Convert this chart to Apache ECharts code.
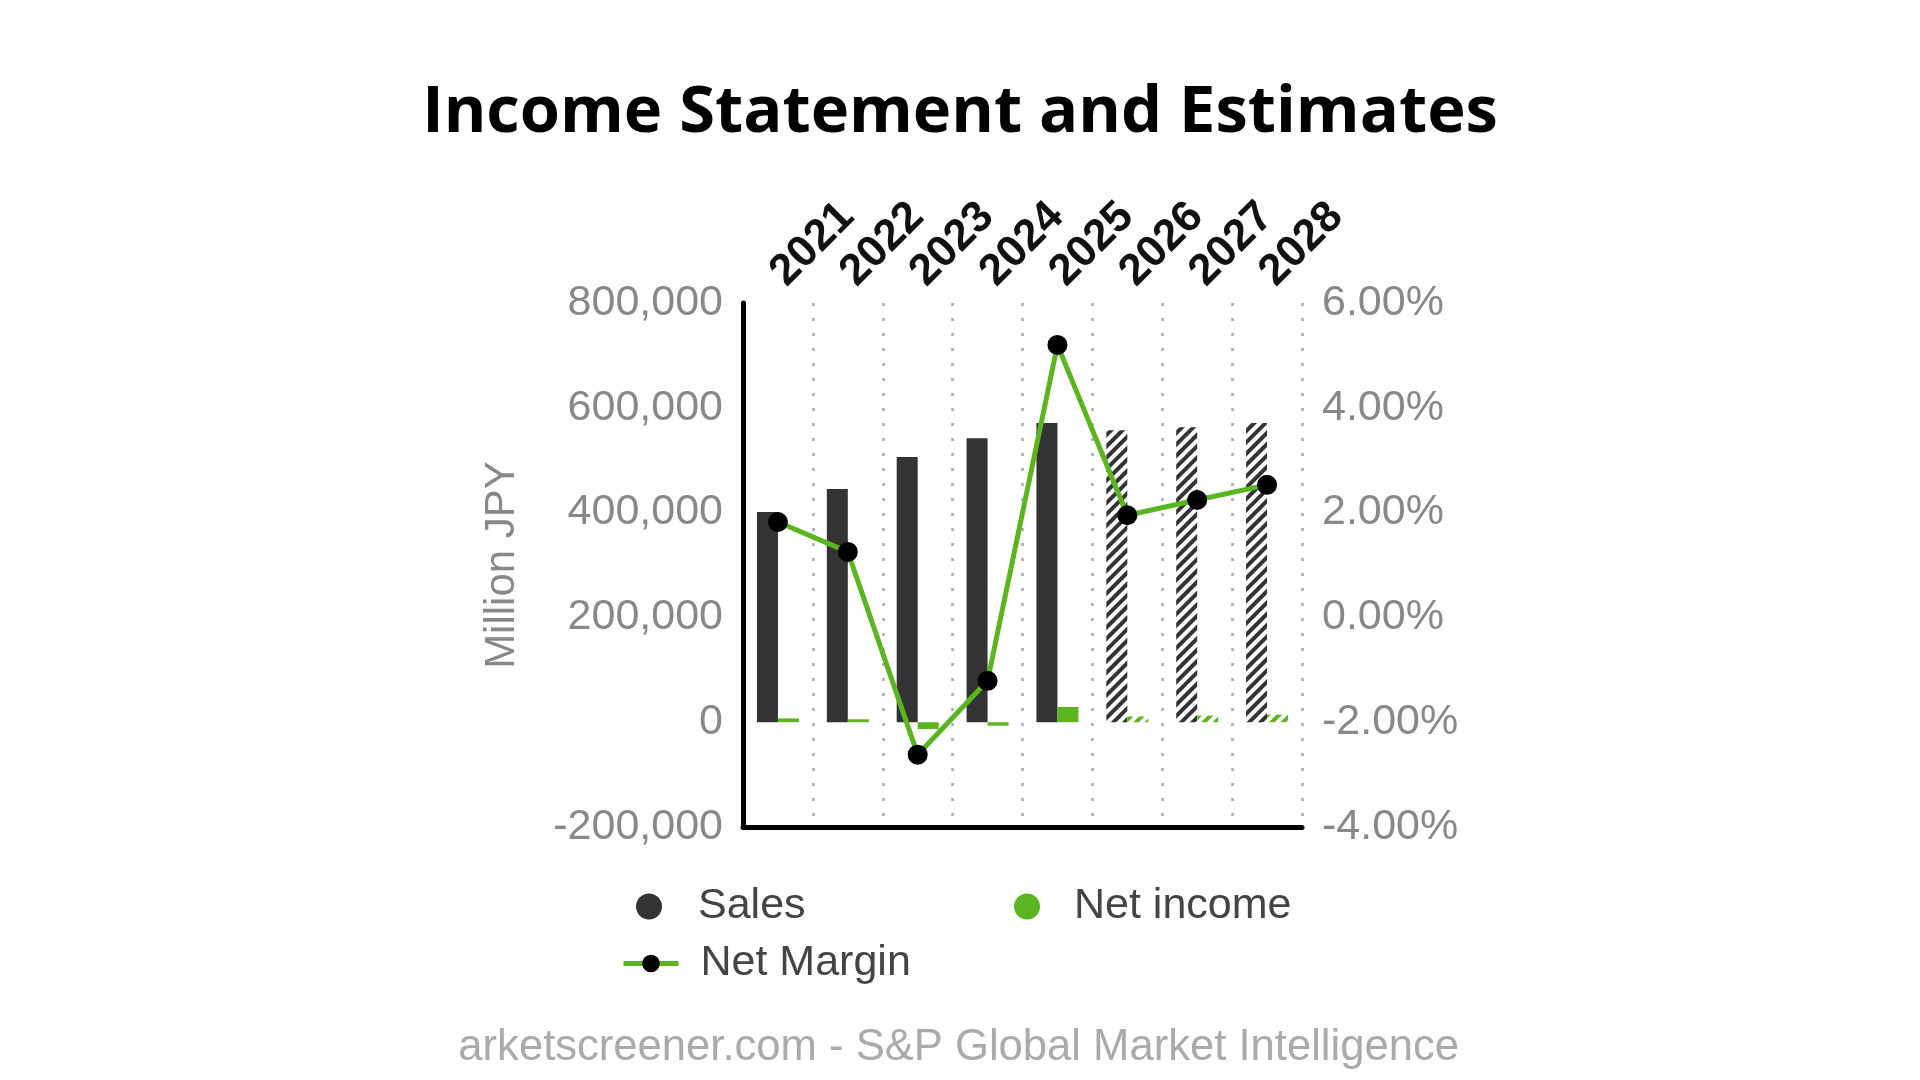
<!DOCTYPE html>
<html>
<head>
<meta charset="utf-8">
<title>Income Statement and Estimates</title>
<script src="https://cdn.jsdelivr.net/npm/echarts@6/dist/echarts.min.js"></script>
<style>
  html, body { margin: 0; padding: 0; background: #fff; }
  #chart { width: 1920px; height: 1080px; }
</style>
</head>
<body>
<div id="chart"></div>
<script>
// ===== data =====
const years = ['2021', '2022', '2023', '2024', '2025', '2026', '2027', '2028'];
const estimateYears = ['2026', '2027', '2028'];
const sales = [401000, 445000, 506000, 542000, 571000, 557000, 563000, 571000];
const netIncome = [7300, 5600, -13000, -6600, 29000, 10900, 12600, 14400];
const netMargin = [1.82, 1.25, -2.62, -1.21, 5.20, 1.95, 2.24, 2.53];
// axis ranges: [min, max, interval]
const salesTicks = [-200000, 800000, 200000];
const marginTicks = [-4, 6, 2];

const DARK = '#333333';
const GREEN = '#5ab520';
const FONT = '"Liberation Sans", Arial, sans-serif';

// hachures for estimated years
function hatch(color) {
  return { color: color, dashArrayX: [1, 0], dashArrayY: [4, 4], rotation: -Math.PI / 4, symbol: 'rect', symbolSize: 1 };
}

function withEstimates(values, color) {
  return values.map((v, i) => estimateYears.includes(years[i])
    ? { value: v, itemStyle: { color: '#fff', decal: hatch(color) } }
    : v);
}

const chart = echarts.init(document.getElementById('chart'));

const legendText = (pad) => ({ fontSize: 43, color: '#444', fontFamily: FONT, padding: [0, 0, 0, pad] });

chart.setOption({
  animation: false,
  textStyle: { fontFamily: FONT },
  title: [
    {
      text: 'Income Statement and Estimates',
      left: 'center', top: 76,
      textStyle: { fontFamily: '"Open Sans", "Noto Sans", sans-serif', fontWeight: 'bold', fontSize: 65, color: '#000' },
    },
    {
      text: 'arketscreener.com - S&P Global Market Intelligence',
      right: 456, top: 1021,
      textStyle: { fontFamily: FONT, fontWeight: 'normal', fontSize: 43.6, color: '#aaa' },
    },
  ],
  legend: [
    { data: ['Sales'], left: 636, top: 885, padding: 0, icon: 'circle', itemWidth: 26, itemHeight: 26, textStyle: legendText(31) },
    { data: ['Net income'], left: 1014, top: 885, padding: 0, icon: 'circle', itemWidth: 26, itemHeight: 26, textStyle: legendText(29) },
    {
      data: ['Net Margin'], left: 621, top: 942, padding: 0, itemWidth: 55, itemHeight: 22,
      lineStyle: { width: 5 }, textStyle: legendText(17),
    },
  ],
  grid: { left: 743, right: 618, top: 303, bottom: 253 },
  xAxis: [
    {
      type: 'category', data: years, position: 'top',
      axisLine: { show: false, onZero: false },
      axisTick: { show: false },
      axisLabel: { interval: 0, rotate: -45, margin: 24, fontSize: 44, fontWeight: 'bold', color: '#111' },
      splitLine: { show: true, interval: 0, lineStyle: { color: '#aaa', width: 2.5, type: [3, 12] } },
    },
    {
      type: 'category', data: years, position: 'bottom',
      axisLine: { show: true, onZero: false, lineStyle: { color: '#000', width: 5 } },
      axisTick: { show: false },
      axisLabel: { show: false },
    },
  ],
  yAxis: [
    {
      type: 'value', position: 'left',
      min: salesTicks[0], max: salesTicks[1], interval: salesTicks[2],
      name: 'Million JPY', nameLocation: 'middle', nameGap: 220,
      nameTextStyle: { fontSize: 42, color: '#888' },
      axisLine: { show: true, lineStyle: { color: '#000', width: 5 } },
      axisTick: { show: false },
      splitLine: { show: false },
      axisLabel: { margin: 20, fontSize: 43, color: '#888', formatter: (v) => v.toLocaleString('en-US') },
    },
    {
      type: 'value', position: 'right',
      min: marginTicks[0], max: marginTicks[1], interval: marginTicks[2],
      axisLine: { show: false },
      axisTick: { show: false },
      splitLine: { show: false },
      axisLabel: { margin: 20, fontSize: 43, color: '#888', formatter: (v) => v.toFixed(2) + '%' },
    },
  ],
  series: [
    {
      name: 'Sales', type: 'bar', barWidth: 21, barGap: '0%',
      itemStyle: { color: DARK },
      data: withEstimates(sales, DARK),
    },
    {
      name: 'Net income', type: 'bar', barWidth: 21,
      itemStyle: { color: GREEN },
      data: withEstimates(netIncome, GREEN),
    },
    {
      name: 'Net Margin', type: 'line', yAxisIndex: 1, z: 5,
      symbol: 'circle', symbolSize: 20,
      itemStyle: { color: '#000' },
      lineStyle: { color: GREEN, width: 5 },
      data: netMargin,
    },
  ],
});

window.addEventListener('resize', () => chart.resize());
</script>
</body>
</html>
